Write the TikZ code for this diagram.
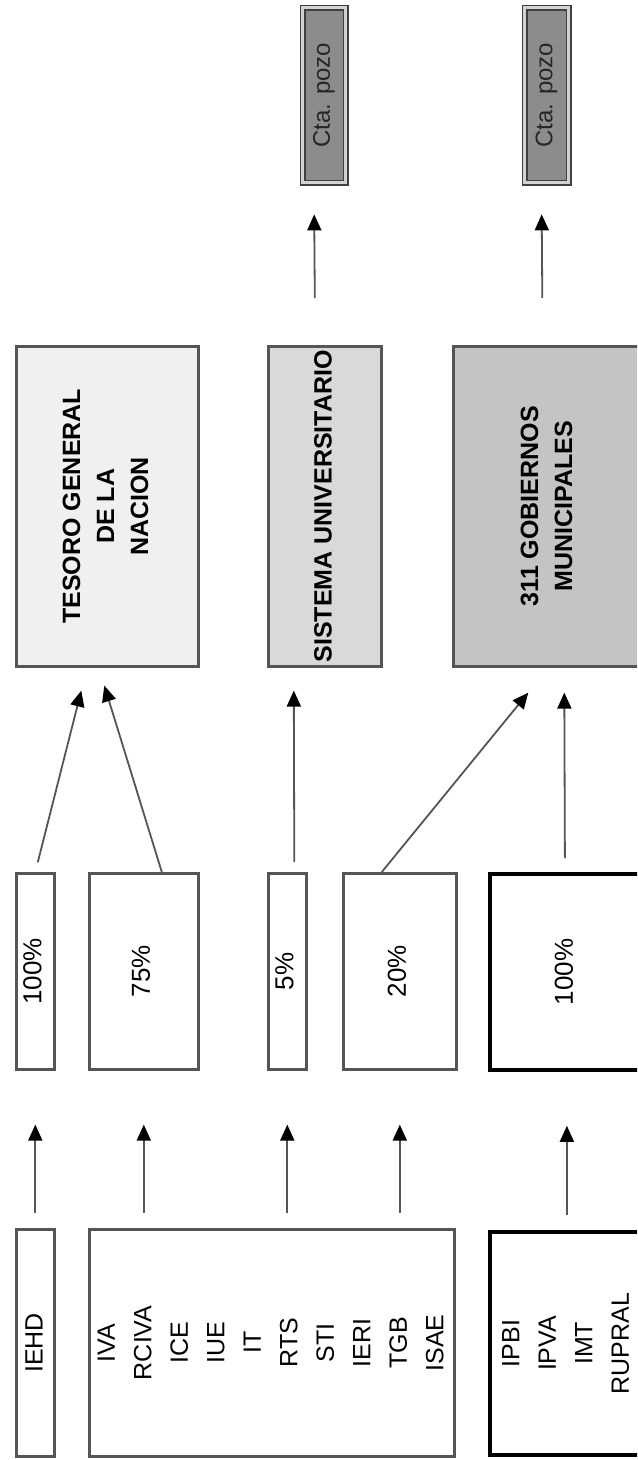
\documentclass[tikz,border=0pt]{standalone}
\usepackage{fontspec}
\setmainfont{Liberation Sans}
\usepackage{graphicx}
\usetikzlibrary{arrows.meta,calc}
\definecolor{lineg}{RGB}{85,85,85}
\newcommand{\uptext}[1]{\rotatebox{90}{\begin{tabular}{@{}c@{}}#1\end{tabular}}}

\begin{document}
\begin{tikzpicture}[x=0.5pt, y=-0.5pt,
  sz/.style 2 args={minimum width={#1*0.5pt}, minimum height={#2*0.5pt}},
  box/.style={draw=lineg, line width=1.3pt, inner sep=0pt, anchor=north west},
  blackbox/.style={box, draw=black, line width=1.9pt},
  srcfont/.style={font=\fontsize{12.5}{18.25}\selectfont},
  pctfont/.style={font=\fontsize{13}{15}\selectfont},
  dstfont/.style={font=\bfseries\fontsize{12.5}{17}\selectfont},
  ctabox/.style={box, draw=black!75, line width=0.7pt, double=gray!35, double distance=1.5pt,
    fill=gray!90, text=black!85, font=\fontsize{12}{14}\selectfont},
  arr/.style={draw=lineg, line width=0.9pt, -{Triangle[length=8pt,width=7pt,color=black]}}
]
\useasboundingbox (0,0) rectangle (637,1460);
\clip (0,0) rectangle (637,1460);

% tributos
\node[box, sz={38}{227}, srcfont] (iehd) at (15,1228) {\uptext{IEHD}};
\node[box, sz={365}{227}, srcfont] (srcnac) at (88,1228) {\uptext{IVA\\RCIVA\\ICE\\IUE\\IT\\RTS\\STI\\IERI\\TGB\\ISAE}};
\node[blackbox, sz={154}{223}, srcfont] (srcmun) at (488,1230) {\uptext{IPBI\\IPVA\\IMT\\RUPRAL}};

% porcentajes
\node[box, sz={38}{196}, pctfont] (p100) at (15,872) {\uptext{100\%}};
\node[box, sz={109}{196}, pctfont] (p75) at (88,872) {\uptext{75\%}};
\node[box, sz={38}{196}, pctfont] (p5) at (267,872) {\uptext{5\%}};
\node[box, sz={113}{196}, pctfont] (p20) at (342,872) {\uptext{20\%}};
\node[blackbox, sz={154}{196}, pctfont] (p100m) at (488,872) {\uptext{100\%}\hspace{20pt}};

% destinos
\node[box, fill=gray!12, sz={182}{320}, dstfont] (tgn) at (15,345) {\uptext{TESORO GENERAL\\DE LA\\NACION}};
\node[box, fill=gray!30, sz={113}{320}, dstfont] (sun) at (267,345) {\uptext{SISTEMA UNIVERSITARIO}};
\node[box, fill=gray!46, sz={190}{320}, dstfont] (gob) at (452,345) {\uptext{311 GOBIERNOS\\MUNICIPALES}\hspace{20pt}};

% cuentas
\node[ctabox, sz={43}{175}] (cta1) at (302,7) {\uptext{Cta. pozo}};
\node[ctabox, sz={44}{175}] (cta2) at (524,7) {\uptext{Cta. pozo}};

% flechas
\draw[arr, shorten <=7.5pt, shorten >=27pt] (iehd.north) -- (p100.south);
\draw[arr, shorten <=7.5pt, shorten >=27pt] (srcnac.north -| p75.south) -- (p75.south);
\draw[arr, shorten <=7.5pt, shorten >=27pt] (srcnac.north -| p5.south) -- (p5.south);
\draw[arr, shorten <=7.5pt, shorten >=27pt] (srcnac.north -| p20.south) -- (p20.south);
\draw[arr, shorten <=7.5pt, shorten >=27pt] (srcmun.north -| p100m.south) -- (p100m.south);

\draw[arr, shorten <=5pt] (p100.north) -- ($(tgn.south)+(-26,23)$);
\draw[arr] ($(p75.north)+(18,0)$) -- ($(tgn.south)+(-3,18)$);
\draw[arr] ($(p5.north)+(7,-10)$) -- ($(sun.south)+(-31,23)$);
\draw[arr] ($(p20.north)+(-18,0)$) -- ($(gob.south)+(-20,25)$);
\draw[arr] ($(p100m.north)+(-2,-14)$) -- ($(gob.south)+(16,25)$);

\draw[arr] ($(sun.north)+(-10,-47)$) -- ($(cta1.south)+(-10,31)$);
\draw[arr] ($(gob.north)+(-6,-47)$) -- ($(cta2.south)+(-5,31)$);
\end{tikzpicture}
\end{document}
